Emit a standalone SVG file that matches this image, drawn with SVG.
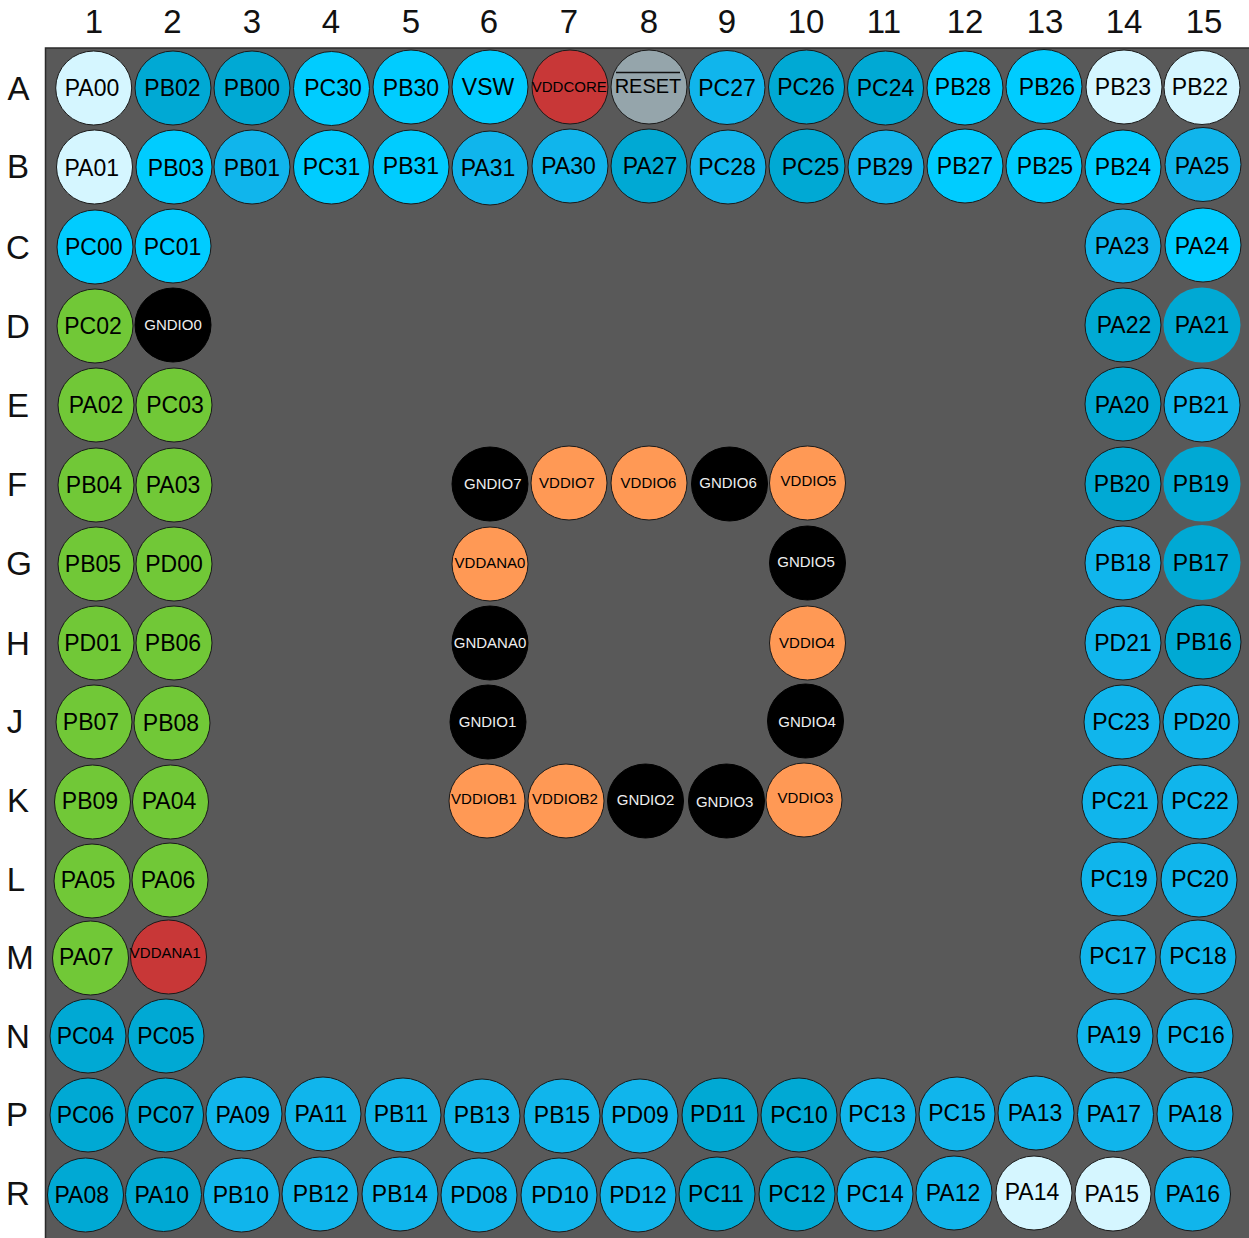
<svg xmlns="http://www.w3.org/2000/svg" width="1249" height="1238" viewBox="0 0 1249 1238">
<style>
text{font-family:"Liberation Sans",Arial,sans-serif;text-anchor:middle;fill:#000}
.h{font-size:33px;fill:#111}
.l{font-size:23px}
.s{font-size:15px}
.w{fill:#eee}
ellipse{stroke:#1a1a1a;stroke-width:1}
.p{fill:#d5f6ff}.b{fill:#00ccff}.m{fill:#10b5ec}.d{fill:#00a9d4}
.g{fill:#71c837}.r{fill:#c83737}.o{fill:#ff9955}.y{fill:#95a5ab}
ellipse.k{fill:#000;stroke:#000}
ellipse.n{stroke:none}
</style>
<rect x="45.500" y="48" width="1210" height="1200" fill="#595959" stroke="#2b2b2b" stroke-width="1.500"/>
<g id="column-labels">
<text class="h" x="94" y="33">1</text><text class="h" x="172.500" y="33">2</text><text class="h" x="252" y="33">3</text><text class="h" x="331" y="33">4</text><text class="h" x="411" y="33">5</text><text class="h" x="489" y="33">6</text><text class="h" x="569" y="33">7</text><text class="h" x="649" y="33">8</text><text class="h" x="727" y="33">9</text><text class="h" x="806" y="33">10</text><text class="h" x="884" y="33">11</text><text class="h" x="965" y="33">12</text><text class="h" x="1045" y="33">13</text><text class="h" x="1124" y="33">14</text><text class="h" x="1204" y="33">15</text>
</g>
<g id="row-labels">
<text class="h" x="18.500" y="100">A</text><text class="h" x="18" y="178">B</text><text class="h" x="18" y="259">C</text><text class="h" x="18" y="338">D</text><text class="h" x="18" y="417">E</text><text class="h" x="17" y="496">F</text><text class="h" x="19" y="575">G</text><text class="h" x="18" y="655">H</text><text class="h" x="15" y="733">J</text><text class="h" x="18" y="812">K</text><text class="h" x="16" y="891">L</text><text class="h" x="20" y="969">M</text><text class="h" x="18" y="1048">N</text><text class="h" x="17" y="1126">P</text><text class="h" x="18" y="1205">R</text>
</g>
<g id="PA00"><ellipse class="p" cx="93.700" cy="88" rx="38" ry="37"/><text class="l" x="92" y="96">PA00</text></g>
<g id="PB02"><ellipse class="d" cx="173" cy="88" rx="38" ry="37"/><text class="l" x="172.500" y="96">PB02</text></g>
<g id="PB00"><ellipse class="d" cx="252" cy="88" rx="38" ry="37"/><text class="l" x="252" y="96">PB00</text></g>
<g id="PC30"><ellipse class="b" cx="331.500" cy="88.500" rx="38" ry="37"/><text class="l" x="333" y="96">PC30</text></g>
<g id="PB30"><ellipse class="b" cx="411" cy="87" rx="38" ry="37"/><text class="l" x="411" y="96">PB30</text></g>
<g id="VSW"><ellipse class="b" cx="490" cy="87" rx="38" ry="37"/><text class="l" x="488" y="95">VSW</text></g>
<g id="VDDCORE"><ellipse class="r" cx="570" cy="87" rx="38" ry="37"/><text class="s" x="569.300" y="92.300">VDDCORE</text></g>
<g id="RESET"><ellipse class="y" cx="649" cy="87" rx="38" ry="37"/><text x="648" y="92.700" font-size="20">RESET</text><path d="M616 72.500H680" stroke="#111" stroke-width="1.700" fill="none"/></g>
<g id="PC27"><ellipse class="m" cx="727" cy="87.500" rx="38" ry="37"/><text class="l" x="727" y="96">PC27</text></g>
<g id="PC26"><ellipse class="d" cx="806.500" cy="87" rx="38" ry="37"/><text class="l" x="806" y="95">PC26</text></g>
<g id="PC24"><ellipse class="d" cx="885.500" cy="88" rx="38" ry="37"/><text class="l" x="885.500" y="96">PC24</text></g>
<g id="PB28"><ellipse class="b" cx="965" cy="88" rx="38" ry="37"/><text class="l" x="963" y="95">PB28</text></g>
<g id="PB26"><ellipse class="b" cx="1044" cy="86.500" rx="38" ry="37"/><text class="l" x="1047" y="95">PB26</text></g>
<g id="PB23"><ellipse class="p" cx="1124" cy="87" rx="38" ry="37"/><text class="l" x="1123" y="95">PB23</text></g>
<g id="PB22"><ellipse class="p" cx="1202" cy="87.500" rx="38" ry="37"/><text class="l" x="1200" y="95">PB22</text></g>
<g id="PA01"><ellipse class="p" cx="94.500" cy="167" rx="38" ry="37"/><text class="l" x="91.700" y="176">PA01</text></g>
<g id="PB03"><ellipse class="b" cx="174" cy="167" rx="38" ry="37"/><text class="l" x="176" y="176">PB03</text></g>
<g id="PB01"><ellipse class="m" cx="252" cy="167" rx="38" ry="37"/><text class="l" x="252" y="176">PB01</text></g>
<g id="PC31"><ellipse class="b" cx="331.500" cy="167" rx="38" ry="37"/><text class="l" x="331.500" y="175">PC31</text></g>
<g id="PB31"><ellipse class="b" cx="411" cy="167" rx="38" ry="37"/><text class="l" x="411" y="174">PB31</text></g>
<g id="PA31"><ellipse class="m" cx="490" cy="168" rx="38" ry="37"/><text class="l" x="488" y="176">PA31</text></g>
<g id="PA30"><ellipse class="m" cx="570" cy="166" rx="38" ry="37"/><text class="l" x="568.500" y="174">PA30</text></g>
<g id="PA27"><ellipse class="d" cx="649" cy="166" rx="38" ry="37"/><text class="l" x="650" y="174">PA27</text></g>
<g id="PC28"><ellipse class="m" cx="728" cy="167" rx="38" ry="37"/><text class="l" x="727" y="175">PC28</text></g>
<g id="PC25"><ellipse class="d" cx="807" cy="166" rx="38" ry="37"/><text class="l" x="810.500" y="175">PC25</text></g>
<g id="PB29"><ellipse class="m" cx="886" cy="167" rx="38" ry="37"/><text class="l" x="885" y="175">PB29</text></g>
<g id="PB27"><ellipse class="b" cx="965" cy="166" rx="38" ry="37"/><text class="l" x="965" y="174">PB27</text></g>
<g id="PB25"><ellipse class="b" cx="1044" cy="166" rx="38" ry="37"/><text class="l" x="1045" y="174">PB25</text></g>
<g id="PB24"><ellipse class="b" cx="1123" cy="167" rx="38" ry="37"/><text class="l" x="1123" y="175">PB24</text></g>
<g id="PA25"><ellipse class="m" cx="1203" cy="164.500" rx="38" ry="37"/><text class="l" x="1202" y="174">PA25</text></g>
<g id="PC00"><ellipse class="b" cx="95" cy="247" rx="38" ry="37"/><text class="l" x="93.800" y="255">PC00</text></g>
<g id="PC01"><ellipse class="b" cx="173" cy="246" rx="38" ry="37"/><text class="l" x="172.500" y="255">PC01</text></g>
<g id="PA23"><ellipse class="m" cx="1123" cy="246" rx="38" ry="37"/><text class="l" x="1122" y="254">PA23</text></g>
<g id="PA24"><ellipse class="b" cx="1203" cy="245" rx="38" ry="37"/><text class="l" x="1202" y="254">PA24</text></g>
<g id="PC02"><ellipse class="g" cx="95" cy="326" rx="38" ry="37"/><text class="l" x="93" y="334">PC02</text></g>
<g id="GNDIO0"><ellipse class="k" cx="173" cy="325" rx="38" ry="37"/><text class="s w" x="173" y="330">GNDIO0</text></g>
<g id="PA22"><ellipse class="d" cx="1123" cy="325" rx="38" ry="37"/><text class="l" x="1124" y="333">PA22</text></g>
<g id="PA21"><ellipse class="d n" cx="1202" cy="325" rx="38.500" ry="37.500"/><text class="l" x="1202" y="333">PA21</text></g>
<g id="PA02"><ellipse class="g" cx="96" cy="405" rx="38" ry="37"/><text class="l" x="96" y="413">PA02</text></g>
<g id="PC03"><ellipse class="g" cx="174" cy="405" rx="38" ry="37"/><text class="l" x="175" y="413">PC03</text></g>
<g id="PA20"><ellipse class="d" cx="1123" cy="404" rx="38" ry="37"/><text class="l" x="1122" y="413">PA20</text></g>
<g id="PB21"><ellipse class="m" cx="1202" cy="405" rx="38" ry="37"/><text class="l" x="1201" y="413">PB21</text></g>
<g id="PB04"><ellipse class="g" cx="96" cy="485" rx="38" ry="37"/><text class="l" x="94" y="493">PB04</text></g>
<g id="PA03"><ellipse class="g" cx="174" cy="485" rx="38" ry="37"/><text class="l" x="173" y="493">PA03</text></g>
<g id="GNDIO7"><ellipse class="k" cx="490" cy="484" rx="38" ry="37"/><text class="s w" x="492.800" y="489">GNDIO7</text></g>
<g id="VDDIO7"><ellipse class="o" cx="569" cy="483" rx="38" ry="37"/><text class="s" x="567" y="488.300">VDDIO7</text></g>
<g id="VDDIO6"><ellipse class="o" cx="649" cy="483" rx="38" ry="37"/><text class="s" x="648.500" y="488">VDDIO6</text></g>
<g id="GNDIO6"><ellipse class="k" cx="729.500" cy="484" rx="38" ry="37"/><text class="s w" x="728" y="488">GNDIO6</text></g>
<g id="VDDIO5"><ellipse class="o" cx="807.500" cy="483" rx="38" ry="37"/><text class="s" x="808.500" y="486">VDDIO5</text></g>
<g id="PB20"><ellipse class="d" cx="1123" cy="484" rx="38" ry="37"/><text class="l" x="1122" y="492">PB20</text></g>
<g id="PB19"><ellipse class="d n" cx="1202" cy="484" rx="38.500" ry="37.500"/><text class="l" x="1201" y="492">PB19</text></g>
<g id="PB05"><ellipse class="g" cx="96" cy="564" rx="38" ry="37"/><text class="l" x="93" y="572">PB05</text></g>
<g id="PD00"><ellipse class="g" cx="174" cy="564" rx="38" ry="37"/><text class="l" x="174" y="572">PD00</text></g>
<g id="VDDANA0"><ellipse class="o" cx="490" cy="564" rx="38" ry="37"/><text class="s" x="490" y="568">VDDANA0</text></g>
<g id="GNDIO5"><ellipse class="k" cx="807.500" cy="563" rx="38" ry="37"/><text class="s w" x="806" y="567">GNDIO5</text></g>
<g id="PB18"><ellipse class="m" cx="1123" cy="563" rx="38" ry="37"/><text class="l" x="1123" y="571">PB18</text></g>
<g id="PB17"><ellipse class="d n" cx="1202" cy="562.500" rx="38.500" ry="37.500"/><text class="l" x="1201" y="571">PB17</text></g>
<g id="PD01"><ellipse class="g" cx="96" cy="643" rx="38" ry="37"/><text class="l" x="93" y="651">PD01</text></g>
<g id="PB06"><ellipse class="g" cx="174" cy="643" rx="38" ry="37"/><text class="l" x="173" y="651">PB06</text></g>
<g id="GNDANA0"><ellipse class="k" cx="490" cy="643" rx="38" ry="37"/><text class="s w" x="490" y="648">GNDANA0</text></g>
<g id="VDDIO4"><ellipse class="o" cx="807.500" cy="643" rx="38" ry="37"/><text class="s" x="807" y="648">VDDIO4</text></g>
<g id="PD21"><ellipse class="m" cx="1123" cy="643" rx="38" ry="37"/><text class="l" x="1123" y="651">PD21</text></g>
<g id="PB16"><ellipse class="d" cx="1203" cy="642" rx="38" ry="37"/><text class="l" x="1204" y="650">PB16</text></g>
<g id="PB07"><ellipse class="g" cx="94" cy="722" rx="38" ry="37"/><text class="l" x="91" y="730">PB07</text></g>
<g id="PB08"><ellipse class="g" cx="172" cy="723" rx="38" ry="37"/><text class="l" x="171" y="731">PB08</text></g>
<g id="GNDIO1"><ellipse class="k" cx="488" cy="722" rx="38" ry="37"/><text class="s w" x="487.500" y="727">GNDIO1</text></g>
<g id="GNDIO4"><ellipse class="k" cx="805.500" cy="721" rx="38" ry="37"/><text class="s w" x="807" y="727">GNDIO4</text></g>
<g id="PC23"><ellipse class="m" cx="1122" cy="722" rx="38" ry="37"/><text class="l" x="1121" y="730">PC23</text></g>
<g id="PD20"><ellipse class="m" cx="1201" cy="722" rx="38" ry="37"/><text class="l" x="1202" y="730">PD20</text></g>
<g id="PB09"><ellipse class="g" cx="92.500" cy="802" rx="38" ry="37"/><text class="l" x="90" y="809">PB09</text></g>
<g id="PA04"><ellipse class="g" cx="170.500" cy="802" rx="38" ry="37"/><text class="l" x="169" y="809">PA04</text></g>
<g id="VDDIOB1"><ellipse class="o" cx="487" cy="801" rx="38" ry="37"/><text class="s" x="484" y="804">VDDIOB1</text></g>
<g id="VDDIOB2"><ellipse class="o" cx="566" cy="801" rx="38" ry="37"/><text class="s" x="565" y="804">VDDIOB2</text></g>
<g id="GNDIO2"><ellipse class="k" cx="645.500" cy="801" rx="38" ry="37"/><text class="s w" x="645.500" y="805">GNDIO2</text></g>
<g id="GNDIO3"><ellipse class="k" cx="726.500" cy="801" rx="38" ry="37"/><text class="s w" x="724.700" y="806.700">GNDIO3</text></g>
<g id="VDDIO3"><ellipse class="o" cx="804" cy="800" rx="38" ry="37"/><text class="s" x="805.500" y="803">VDDIO3</text></g>
<g id="PC21"><ellipse class="m" cx="1120" cy="802" rx="38" ry="37"/><text class="l" x="1120" y="809">PC21</text></g>
<g id="PC22"><ellipse class="m" cx="1200" cy="802" rx="38" ry="37"/><text class="l" x="1200" y="809">PC22</text></g>
<g id="PA05"><ellipse class="g" cx="92" cy="881" rx="38" ry="37"/><text class="l" x="88" y="888">PA05</text></g>
<g id="PA06"><ellipse class="g" cx="170" cy="880" rx="38" ry="37"/><text class="l" x="168" y="888">PA06</text></g>
<g id="PC19"><ellipse class="m" cx="1119" cy="879" rx="38" ry="37"/><text class="l" x="1119" y="887">PC19</text></g>
<g id="PC20"><ellipse class="m" cx="1199" cy="880" rx="38" ry="37"/><text class="l" x="1200" y="887">PC20</text></g>
<g id="PA07"><ellipse class="g" cx="90.500" cy="958" rx="38" ry="37"/><text class="l" x="86.300" y="965">PA07</text></g>
<g id="VDDANA1"><ellipse class="r" cx="168.500" cy="957" rx="38" ry="37"/><text class="s" x="165.300" y="958">VDDANA1</text></g>
<g id="PC17"><ellipse class="m" cx="1118" cy="957" rx="38" ry="37"/><text class="l" x="1118" y="964">PC17</text></g>
<g id="PC18"><ellipse class="m" cx="1198" cy="957" rx="38" ry="37"/><text class="l" x="1198" y="964">PC18</text></g>
<g id="PC04"><ellipse class="d" cx="88" cy="1036" rx="38" ry="37"/><text class="l" x="85.500" y="1044">PC04</text></g>
<g id="PC05"><ellipse class="d" cx="166" cy="1036" rx="38" ry="37"/><text class="l" x="166" y="1044">PC05</text></g>
<g id="PA19"><ellipse class="m" cx="1115" cy="1036" rx="38" ry="37"/><text class="l" x="1114" y="1043">PA19</text></g>
<g id="PC16"><ellipse class="m" cx="1195" cy="1036" rx="38" ry="37"/><text class="l" x="1196" y="1043">PC16</text></g>
<g id="PC06"><ellipse class="d" cx="88" cy="1115" rx="38" ry="37"/><text class="l" x="85.500" y="1122.700">PC06</text></g>
<g id="PC07"><ellipse class="d" cx="165.500" cy="1115" rx="38" ry="37"/><text class="l" x="166" y="1123">PC07</text></g>
<g id="PA09"><ellipse class="m" cx="244" cy="1114" rx="38" ry="37"/><text class="l" x="242.700" y="1123">PA09</text></g>
<g id="PA11"><ellipse class="m" cx="323" cy="1114" rx="38" ry="37"/><text class="l" x="321" y="1122">PA11</text></g>
<g id="PB11"><ellipse class="m" cx="403" cy="1115" rx="38" ry="37"/><text class="l" x="401" y="1122">PB11</text></g>
<g id="PB13"><ellipse class="m" cx="482" cy="1116" rx="38" ry="37"/><text class="l" x="482" y="1123">PB13</text></g>
<g id="PB15"><ellipse class="m" cx="562" cy="1116" rx="38" ry="37"/><text class="l" x="562" y="1123">PB15</text></g>
<g id="PD09"><ellipse class="m" cx="640" cy="1116" rx="38" ry="37"/><text class="l" x="640" y="1123">PD09</text></g>
<g id="PD11"><ellipse class="d" cx="720" cy="1115" rx="38" ry="37"/><text class="l" x="718" y="1122">PD11</text></g>
<g id="PC10"><ellipse class="d" cx="799" cy="1115" rx="38" ry="37"/><text class="l" x="799" y="1123">PC10</text></g>
<g id="PC13"><ellipse class="m" cx="878" cy="1115" rx="38" ry="37"/><text class="l" x="877" y="1122">PC13</text></g>
<g id="PC15"><ellipse class="m" cx="957" cy="1114" rx="38" ry="37"/><text class="l" x="957" y="1121">PC15</text></g>
<g id="PA13"><ellipse class="m" cx="1036" cy="1113" rx="38" ry="37"/><text class="l" x="1035" y="1121">PA13</text></g>
<g id="PA17"><ellipse class="m" cx="1115.500" cy="1114.500" rx="38" ry="37"/><text class="l" x="1113.700" y="1121.700">PA17</text></g>
<g id="PA18"><ellipse class="m" cx="1195" cy="1114" rx="38" ry="37"/><text class="l" x="1195" y="1122">PA18</text></g>
<g id="PA08"><ellipse class="d" cx="85.500" cy="1195" rx="38" ry="37"/><text class="l" x="81.700" y="1202.700">PA08</text></g>
<g id="PA10"><ellipse class="d" cx="163.500" cy="1194.500" rx="38" ry="37"/><text class="l" x="161.700" y="1203">PA10</text></g>
<g id="PB10"><ellipse class="m" cx="241.500" cy="1195" rx="38" ry="37"/><text class="l" x="240.800" y="1203">PB10</text></g>
<g id="PB12"><ellipse class="m" cx="320" cy="1194" rx="38" ry="37"/><text class="l" x="321" y="1202">PB12</text></g>
<g id="PB14"><ellipse class="m" cx="400" cy="1194" rx="38" ry="37"/><text class="l" x="400" y="1202">PB14</text></g>
<g id="PD08"><ellipse class="m" cx="479" cy="1195" rx="38" ry="37"/><text class="l" x="479" y="1203">PD08</text></g>
<g id="PD10"><ellipse class="m" cx="559" cy="1195" rx="38" ry="37"/><text class="l" x="560" y="1203">PD10</text></g>
<g id="PD12"><ellipse class="m" cx="638" cy="1195" rx="38" ry="37"/><text class="l" x="638" y="1203">PD12</text></g>
<g id="PC11"><ellipse class="d" cx="717" cy="1194" rx="38" ry="37"/><text class="l" x="716" y="1202">PC11</text></g>
<g id="PC12"><ellipse class="d" cx="797" cy="1194" rx="38" ry="37"/><text class="l" x="797" y="1202">PC12</text></g>
<g id="PC14"><ellipse class="m" cx="875" cy="1194" rx="38" ry="37"/><text class="l" x="875" y="1202">PC14</text></g>
<g id="PA12"><ellipse class="m" cx="954" cy="1193" rx="38" ry="37"/><text class="l" x="953" y="1201">PA12</text></g>
<g id="PA14"><ellipse class="p" cx="1034" cy="1193" rx="38" ry="37"/><text class="l" x="1032" y="1200">PA14</text></g>
<g id="PA15"><ellipse class="p" cx="1113" cy="1194" rx="38" ry="37"/><text class="l" x="1111.700" y="1201.700">PA15</text></g>
<g id="PA16"><ellipse class="m" cx="1192.500" cy="1194" rx="38" ry="37"/><text class="l" x="1192.700" y="1202">PA16</text></g>
</svg>
